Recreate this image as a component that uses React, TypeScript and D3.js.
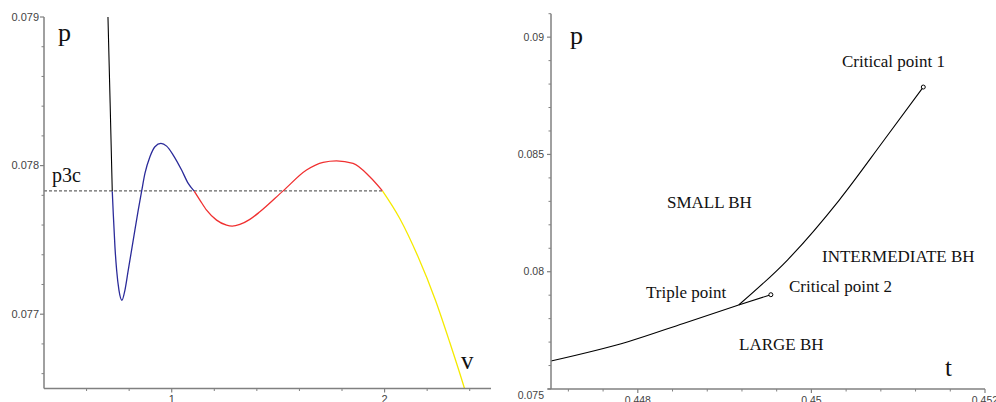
import React from "react";
import * as d3 from "d3";

// ---------- Left panel data (v, p) ----------
const blackV = [0.7005, 0.7107, 0.7207];
const blackP = [0.079, 0.07842, 0.077828];

const blueV = [0.7207, 0.7254, 0.7333, 0.7413, 0.7521, 0.7662, 0.7803, 0.7958, 0.8192, 0.8427, 0.8587, 0.8742, 0.8977, 0.9211, 0.9493, 0.9761, 1.007, 1.0465, 1.0775, 1.1056];
const blueP = [0.077828, 0.077678, 0.077453, 0.077296, 0.077162, 0.077094, 0.077162, 0.077296, 0.077498, 0.0777, 0.077828, 0.077947, 0.078059, 0.078127, 0.078149, 0.078131, 0.078071, 0.07797, 0.07788, 0.077828];

const redV = [1.1056, 1.1324, 1.1638, 1.2108, 1.2577, 1.284, 1.3202, 1.3671, 1.4141, 1.5235, 1.6333, 1.7113, 1.7742, 1.8521, 1.9305, 1.9901];
const redP = [0.077828, 0.077768, 0.0777, 0.077633, 0.077599, 0.077593, 0.077604, 0.077638, 0.077689, 0.07783, 0.07797, 0.078022, 0.078032, 0.078015, 0.077925, 0.07783];

const yellowV = [1.9901, 2.0714, 2.1559, 2.239, 2.3061, 2.3765, 2.39];
const yellowP = [0.07783, 0.077644, 0.077391, 0.077094, 0.076811, 0.076495, 0.07643];

const p3c = 0.07783;
const p3cEndV = 1.9901;

const leftXMajor = [1, 2];
const leftXMinor = [0.6, 0.8, 1.2, 1.4, 1.6, 1.8, 2.2, 2.4];
const leftYMajor = [0.077, 0.078, 0.079];
const leftYMinor = [0.0766, 0.0768, 0.0772, 0.0774, 0.0776, 0.0778, 0.0782, 0.0784, 0.0786, 0.0788];

// ---------- Right panel data (t, p) ----------
const lowerT = [0.447, 0.447887, 0.448525, 0.449162];
const lowerP = [0.076194, 0.077016, 0.077795, 0.078581];

const cp2T = [0.449162, 0.449533];
const cp2P = [0.078581, 0.07902];

const upperT = [0.449162, 0.449724, 0.450321, 0.450838, 0.451289];
const upperP = [0.078581, 0.080499, 0.083056, 0.085614, 0.087873];

const rightXMajor = [0.448, 0.45, 0.452];
const rightXMinor = [0.4472, 0.4476, 0.4484, 0.4488, 0.4492, 0.4496, 0.4504, 0.4508, 0.4512, 0.4516];
const rightYMajor = [0.075, 0.08, 0.085, 0.09];
const rightYMinor = [0.076, 0.077, 0.078, 0.079, 0.081, 0.082, 0.083, 0.084, 0.086, 0.087, 0.088, 0.089, 0.091];

const axisColor = "#808080";
const tickTextColor = "#444";
const sans = "'Liberation Sans', Arial, sans-serif";
const serif = "'Liberation Serif', 'Times New Roman', serif";

const zip = (a: number[], b: number[]) => a.map((v, i) => [v, b[i]] as [number, number]);

export default function App() {
  // Left scales
  const lx = d3.scaleLinear().domain([0.4, 2.5]).range([44, 491]);
  const ly = d3.scaleLinear().domain([0.0765, 0.079]).range([388.5, 17]);
  // Right scales
  const rx = d3.scaleLinear().domain([0.447, 0.452]).range([551, 985]);
  const ry = d3.scaleLinear().domain([0.075, 0.091]).range([389, 13.7]);

  const lline = d3
    .line<[number, number]>()
    .x((d) => lx(d[0]))
    .y((d) => ly(d[1]))
    .curve(d3.curveMonotoneX);
  const rline = d3
    .line<[number, number]>()
    .x((d) => rx(d[0]))
    .y((d) => ry(d[1]))
    .curve(d3.curveMonotoneX);
  const rlineStraight = d3
    .line<[number, number]>()
    .x((d) => rx(d[0]))
    .y((d) => ry(d[1]));

  const lx0 = lx(0.4);
  const ly0 = ly(0.0765);
  const rx0 = rx(0.447);
  const ry0 = ry(0.075);

  return (
    <svg
      width={996}
      height={402}
      style={{ position: "absolute", left: 0, top: 0, background: "#fff" }}
    >
      <defs>
        <clipPath id="leftClip">
          <rect x={lx0} y={ly(0.079)} width={lx(2.5) - lx0} height={ly0 - ly(0.079)} />
        </clipPath>
      </defs>

      {/* ---------- LEFT PANEL ---------- */}
      <g clipPath="url(#leftClip)">
        <line
          x1={lx(0.4)}
          x2={lx(p3cEndV)}
          y1={ly(p3c)}
          y2={ly(p3c)}
          stroke="#666"
          strokeWidth={1.2}
          strokeDasharray="3,2"
        />
        <path d={lline(zip(blackV, blackP)) || ""} fill="none" stroke="#000" strokeWidth={1.1} />
        <path d={lline(zip(blueV, blueP)) || ""} fill="none" stroke="#2b2b9a" strokeWidth={1.3} />
        <path d={lline(zip(redV, redP)) || ""} fill="none" stroke="#f03030" strokeWidth={1.3} />
        <path d={lline(zip(yellowV, yellowP)) || ""} fill="none" stroke="#f5ea00" strokeWidth={1.3} />
      </g>

      {/* left axes */}
      <line x1={lx0} x2={lx0} y1={ly(0.079)} y2={ly0} stroke={axisColor} strokeWidth={1.5} />
      <line x1={lx0} x2={lx(2.5)} y1={ly0} y2={ly0} stroke={axisColor} strokeWidth={1.5} />
      {leftYMajor.map((t) => (
        <g key={"lym" + t}>
          <line x1={lx0 - 4} x2={lx0} y1={ly(t)} y2={ly(t)} stroke={axisColor} strokeWidth={1.2} />
          <text
            x={lx0 - 5}
            y={ly(t)}
            dy="0.35em"
            textAnchor="end"
            fontFamily={sans}
            fontSize={11}
            fill={tickTextColor}
          >
            {t.toString()}
          </text>
        </g>
      ))}
      {leftYMinor.map((t) => (
        <line key={"lyn" + t} x1={lx0 - 2.5} x2={lx0} y1={ly(t)} y2={ly(t)} stroke={axisColor} strokeWidth={1} />
      ))}
      {leftXMajor.map((t) => (
        <g key={"lxm" + t}>
          <line x1={lx(t)} x2={lx(t)} y1={ly0} y2={ly0 + 4} stroke={axisColor} strokeWidth={1.2} />
          <text
            x={lx(t)}
            y={ly0 + 14.5}
            textAnchor="middle"
            fontFamily={sans}
            fontSize={11}
            fill={tickTextColor}
          >
            {t.toString()}
          </text>
        </g>
      ))}
      {leftXMinor.map((t) => (
        <line key={"lxn" + t} x1={lx(t)} x2={lx(t)} y1={ly0} y2={ly0 + 2.5} stroke={axisColor} strokeWidth={1} />
      ))}

      <text x={58} y={41} fontFamily={serif} fontSize={26} fill="#111">p</text>
      <text x={52} y={182} fontFamily={serif} fontSize={20} fill="#111">p3c</text>
      <text x={461} y={369} fontFamily={serif} fontSize={25} fill="#111">v</text>

      {/* ---------- RIGHT PANEL ---------- */}
      <path d={rline(zip(lowerT, lowerP)) || ""} fill="none" stroke="#000" strokeWidth={1.1} />
      <path d={rlineStraight(zip(cp2T, cp2P)) || ""} fill="none" stroke="#000" strokeWidth={1.1} />
      <path d={rline(zip(upperT, upperP)) || ""} fill="none" stroke="#000" strokeWidth={1.1} />
      <circle cx={rx(cp2T[1])} cy={ry(cp2P[1])} r={2} fill="#fff" stroke="#000" strokeWidth={1} />
      <circle cx={rx(upperT[4])} cy={ry(upperP[4])} r={2} fill="#fff" stroke="#000" strokeWidth={1} />

      {/* right axes */}
      <line x1={rx0} x2={rx0} y1={ry(0.091)} y2={ry0} stroke={axisColor} strokeWidth={1.5} />
      <line x1={rx0 - 3} x2={rx(0.452)} y1={ry0} y2={ry0} stroke={axisColor} strokeWidth={1.5} />
      {rightYMajor.map((t) => (
        <g key={"rym" + t}>
          <line x1={rx0 - 4} x2={rx0} y1={ry(t)} y2={ry(t)} stroke={axisColor} strokeWidth={1.2} />
          <text
            x={rx0 - 7}
            y={ry(t) + (t === 0.075 ? 6 : 0)}
            dy="0.35em"
            textAnchor="end"
            fontFamily={sans}
            fontSize={10.5}
            fill={tickTextColor}
          >
            {t.toString()}
          </text>
        </g>
      ))}
      {rightYMinor.map((t) => (
        <line key={"ryn" + t} x1={rx0 - 2.5} x2={rx0} y1={ry(t)} y2={ry(t)} stroke={axisColor} strokeWidth={1} />
      ))}
      {rightXMajor.map((t) => (
        <g key={"rxm" + t}>
          <line x1={rx(t)} x2={rx(t)} y1={ry0} y2={ry0 + 4} stroke={axisColor} strokeWidth={1.2} />
          <text
            x={rx(t)}
            y={ry0 + 14.5}
            textAnchor="middle"
            fontFamily={sans}
            fontSize={10.5}
            fill={tickTextColor}
          >
            {t.toString()}
          </text>
        </g>
      ))}
      {rightXMinor.map((t) => (
        <line key={"rxn" + t} x1={rx(t)} x2={rx(t)} y1={ry0} y2={ry0 + 2.5} stroke={axisColor} strokeWidth={1} />
      ))}

      <text x={570} y={44} fontFamily={serif} fontSize={26} fill="#111">p</text>
      <text x={945} y={376} fontFamily={serif} fontSize={25} fill="#111">t</text>
      <text x={842} y={67} fontFamily={serif} fontSize={17} fill="#111">Critical point 1</text>
      <text x={667} y={208} fontFamily={serif} fontSize={17} fill="#111">SMALL BH</text>
      <text x={822} y={262} fontFamily={serif} fontSize={17} fill="#111">INTERMEDIATE BH</text>
      <text x={789} y={291.5} fontFamily={serif} fontSize={17} fill="#111">Critical point 2</text>
      <text x={646} y={298} fontFamily={serif} fontSize={17} fill="#111">Triple point</text>
      <text x={739} y={350} fontFamily={serif} fontSize={17} fill="#111">LARGE BH</text>
    </svg>
  );
}
